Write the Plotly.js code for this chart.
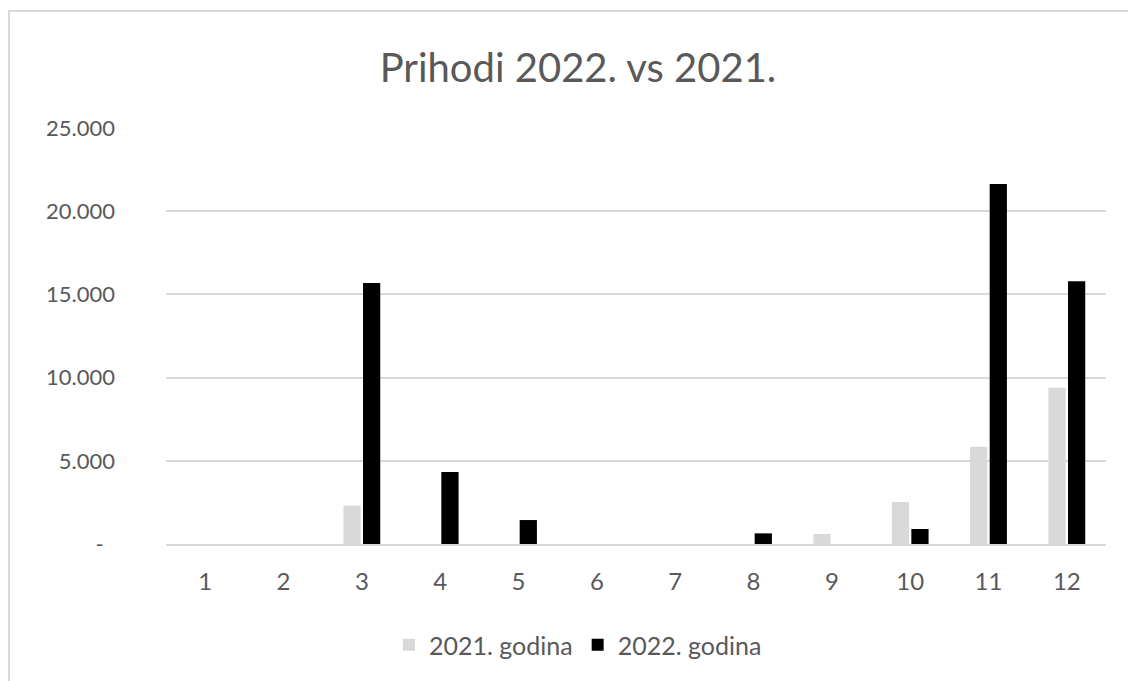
<!DOCTYPE html>
<html>
<head>
<meta charset="utf-8">
<script src="https://cdn.plot.ly/plotly-3.0.1.min.js"></script>
<style>
  html, body { margin: 0; padding: 0; background: #ffffff; }
  #wrap { position: relative; width: 1128px; height: 681px; overflow: hidden; }
  #chart { position: absolute; left: 0; top: 0; width: 1128px; height: 681px; }
  #frame { position: absolute; left: 8px; top: 10px; width: 1140px; height: 690px;
           border: 2px solid #d9d9d9; box-sizing: border-box; pointer-events: none; }
</style>
</head>
<body>
<div id="wrap">
  <div id="chart"></div>
  <div id="frame"></div>
</div>
<script>
const months = ['1','2','3','4','5','6','7','8','9','10','11','12'];
const values2021 = [0, 0, 2310, 0, 0, 0, 0, 0, 600, 2520, 5850, 9390];
const values2022 = [0, 0, 15680, 4320, 1440, 0, 0, 640, 0, 900, 21640, 15790];
const seriesNames = ['2021. godina', '2022. godina'];
const yTickVals = [0, 5000, 10000, 15000, 20000, 25000];
const yTickText = ['-\u00a0\u00a0', '5.000', '10.000', '15.000', '20.000', '25.000'];
const chartTitle = 'Prihodi 2022. vs 2021.';

const FONT = 'Lato, "Open Sans", sans-serif';
const TXT = '#595959';

const traces = [
  { type: 'bar', x: months, y: values2021, name: seriesNames[0],
    marker: { color: '#d9d9d9' }, hoverinfo: 'x+y' },
  { type: 'bar', x: months, y: values2022, name: seriesNames[1],
    marker: { color: '#000000' }, hoverinfo: 'x+y' }
];

const layout = {
  width: 1128, height: 681,
  paper_bgcolor: 'rgba(0,0,0,0)', plot_bgcolor: '#ffffff',
  margin: { l: 166, r: 22, t: 128, b: 137 },
  font: { family: FONT, color: TXT, size: 24 },
  title: { text: chartTitle, font: { family: FONT, size: 40, color: TXT },
           x: 578 / 1128, xanchor: 'center', xref: 'container',
           y: 1 - 68 / 681, yanchor: 'middle', yref: 'container' },
  barmode: 'group', bargap: 0.5, bargroupgap: 0.12,
  xaxis: { type: 'category', showgrid: false, showline: true, linecolor: '#d9d9d9', linewidth: 2,
           ticks: '', tickfont: { size: 24, color: TXT }, ticklabelstandoff: 15, zeroline: false },
  yaxis: { range: [0, 25000], tickvals: yTickVals, ticktext: yTickText,
           showgrid: true, gridcolor: '#d9d9d9', gridwidth: 2, zeroline: false,
           showline: false, ticks: '', tickfont: { size: 22, color: TXT }, ticklabelstandoff: 50 },
  showlegend: true,
  legend: { orientation: 'h', x: (578 - 166) / 940, xanchor: 'center',
            y: (544 - 645) / 416, yanchor: 'middle', yref: 'paper',
            font: { size: 25, color: TXT }, itemwidth: 30, traceorder: 'normal' }
};

Plotly.newPlot('chart', traces, layout, { staticPlot: true, displayModeBar: false });
</script>
</body>
</html>
